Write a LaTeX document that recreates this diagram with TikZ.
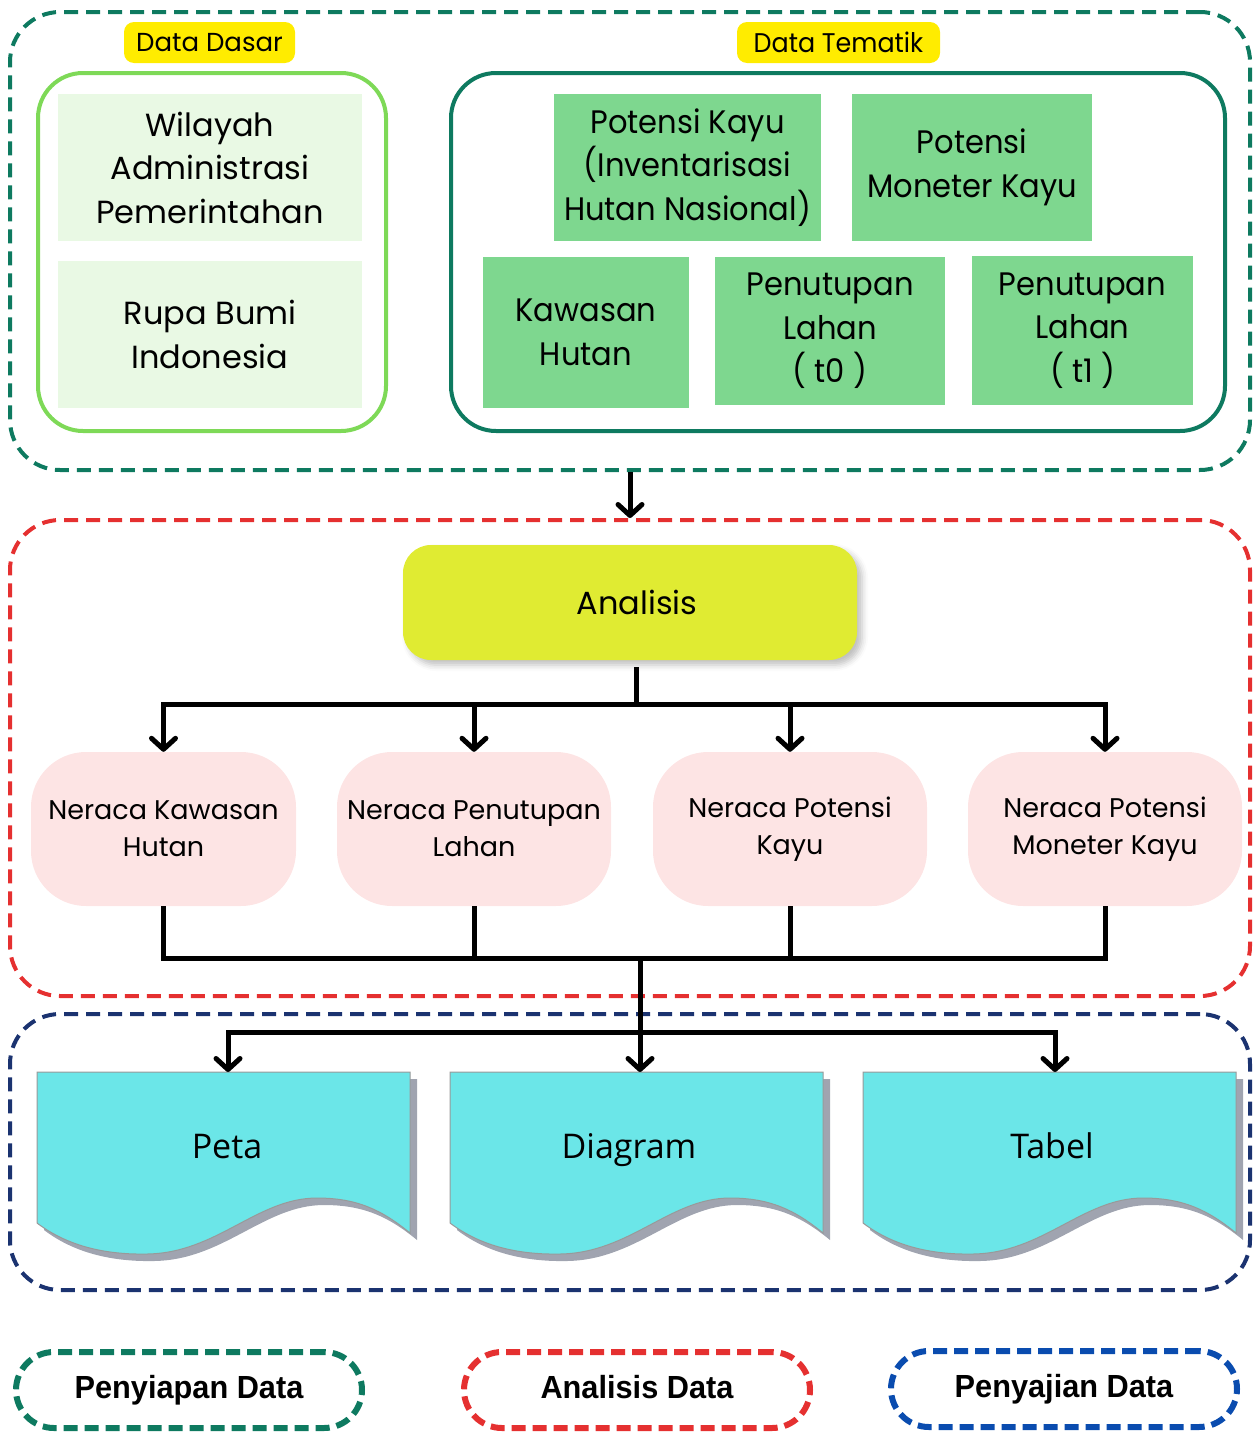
\documentclass[tikz,border=0pt]{standalone}
\usepackage{fontspec}
\setmainfont{Poppins}
\newfontfamily\condf[FakeStretch=0.94]{Poppins}
\newfontfamily\docf{Open Sans}
\newfontfamily\legf[FakeStretch=0.96]{Liberation Sans}
\usetikzlibrary{arrows.meta,shadows.blur}
\definecolor{dgreen}{HTML}{0E7A60}
\definecolor{lgreen}{HTML}{7ED957}
\definecolor{pgreen}{HTML}{E9F9E4}
\definecolor{mgreen}{HTML}{7ED78F}
\definecolor{fred}{HTML}{E53030}
\definecolor{navy}{HTML}{1B3370}
\definecolor{lblue}{HTML}{0A4CAF}
\definecolor{ylw}{HTML}{FFEC00}
\definecolor{lime}{HTML}{E0EB32}
\definecolor{pink}{HTML}{FDE4E4}
\definecolor{cyanf}{HTML}{6BE6E8}
\definecolor{shd}{HTML}{A0A4B0}
\tikzset{
  frame/.style={draw, line width=4pt, dash pattern=on 14pt off 8pt, rounded corners=50pt, minimum width=1240pt, inner sep=0pt},
  tag/.style={fill=ylw, rounded corners=10pt, minimum height=41pt, inner sep=0pt, font=\fontsize{26}{28}\selectfont},
  paleb/.style={fill=pgreen, minimum width=304pt, minimum height=147pt, inner sep=0pt, align=center, font=\fontsize{32}{43.5}\selectfont},
  greenb/.style={fill=mgreen, inner sep=0pt, align=center, font=\condf\fontsize{32.5}{43.5}\selectfont},
  ner/.style={fill=pink, rounded corners=55pt, minimum height=154pt, inner sep=0pt, align=center, font=\fontsize{27}{37}\selectfont},
  leg/.style={draw, line width=6pt, dash pattern=on 14pt off 7pt, rounded corners=38pt, minimum width=346pt, minimum height=76pt, inner sep=0pt, text height=23pt, text depth=7pt, font=\legf\bfseries\fontsize{32}{36}\selectfont},
  doclabel/.style={font=\docf\fontsize{34}{38}\selectfont, text height=25pt, text depth=8pt, inner sep=0pt},
  conn/.style={line width=5pt},
  arr/.style={line width=5pt, -{Straight Barb[length=11pt, width=24pt, line width=5pt, round]}},
  docshape/.pic={
    \fill[shd] (7,7) -- (380,7) -- (380,168) .. controls (352,145) and (327,133) .. (287,133) .. controls (227,133) and (187,188) .. (117,189) .. controls (67,190) and (32,177) .. (7,158) -- cycle;
    \draw[fill=cyanf, draw=gray!80, line width=1pt] (0,0) -- (373,0) -- (373,161) .. controls (345,138) and (320,126) .. (280,126) .. controls (220,126) and (180,181) .. (110,182) .. controls (60,183) and (25,170) .. (0,151) -- cycle;
  }
}
\begin{document}
\begin{tikzpicture}[x=1pt, y=-1pt]
\useasboundingbox (0,0) rectangle (1256,1432);
% frames
\node[frame, draw=dgreen, minimum height=458pt] (fg) at (630,241) {};
\node[frame, draw=fred, minimum height=476pt] (fr) at (630,758) {};
\node[frame, draw=navy, minimum height=276pt] (fb) at (630,1152) {};
% Data Dasar
\node[tag, minimum width=171pt] (dd) at (209.5,42.5) {Data Dasar};
\node[draw=lgreen, line width=4pt, rounded corners=45pt, minimum width=348pt, minimum height=358pt, inner sep=0pt] (ddbox) at (212,252) {};
\node[paleb] (wil) at (210,167.5) {Wilayah\\Administrasi\\Pemerintahan};
\node[paleb] (rupa) at (210,334.5) {Rupa Bumi\\Indonesia};
% Data Tematik
\node[tag, minimum width=203pt, font=\condf\fontsize{27}{28}\selectfont] (dt) at (838.5,42.5) {Data Tematik};
\node[draw=dgreen, line width=4pt, rounded corners=45pt, minimum width=774pt, minimum height=358pt, inner sep=0pt] (dtbox) at (838,252) {};
\node[greenb, minimum width=267pt, minimum height=147pt] (pk) at (687.5,167.5) {Potensi Kayu\\(Inventarisasi\\Hutan Nasional)};
\node[greenb, minimum width=240pt, minimum height=147pt] (pm) at (972,167.5) {Potensi\\Moneter Kayu};
\node[greenb, minimum width=206pt, minimum height=151pt] (kh) at (586,332.5) {Kawasan\\Hutan};
\node[greenb, minimum width=230pt, minimum height=148pt] (pl0) at (830,331) {Penutupan\\Lahan\\( t0 )};
\node[greenb, minimum width=221pt, minimum height=149pt] (pl1) at (1082.5,330.5) {Penutupan\\Lahan\\( t1 )};
\draw[arr] (fg.south) -- (fr.north);
% Analisis
\node[fill=lime, rounded corners=28pt, minimum width=454pt, minimum height=115pt, inner sep=0pt,
  blur shadow={shadow xshift=5pt, shadow yshift=-5pt, shadow blur radius=6pt, shadow opacity=25},
  font=\fontsize{32}{36}\selectfont] (ana) at (630,602.5) {\hspace{14pt}Analisis};
% Neraca
\node[ner, minimum width=265pt] (n1) at (163.5,829) {Neraca Kawasan\\Hutan};
\node[ner, minimum width=274pt] (n2) at (474,829) {Neraca Penutupan\\Lahan};
\node[ner, minimum width=274pt] (n3) at (790,829) {Neraca Potensi\\Kayu\vphantom{p}};
\node[ner, minimum width=274pt] (n4) at (1105,829) {Neraca Potensi\\Moneter Kayu};
\coordinate (j1) at (636,704);
\draw[conn] (j1 |- ana.south) ++(0,7) -- (j1);
\draw[arr] (j1) -| (n1.north);
\draw[arr] (j1) -| (n4.north);
\draw[arr] (n2.north |- j1) -- (n2.north);
\draw[arr] (n3.north |- j1) -- (n3.north);
% documents
\pic at (37,1072) {docshape};
\pic at (450,1072) {docshape};
\pic at (863,1072) {docshape};
\node[doclabel] (peta) at (227,1150) {Peta};
\node[doclabel] (diag) at (629,1150) {Diagram};
\node[doclabel] (tabel) at (1052,1150) {Tabel};
\coordinate (petatop) at (228,1072);
\coordinate (diagtop) at (640,1072);
\coordinate (tabeltop) at (1055,1072);
\coordinate (j2) at (640,958);
\coordinate (j3) at (640,1032);
\draw[conn] (n1.south) |- (j2 -| n4.south) -- (n4.south);
\draw[conn] (n2.south) -- (n2.south |- j2);
\draw[conn] (n3.south) -- (n3.south |- j2);
\draw[arr] (j2) -- (diagtop);
\draw[arr] (j3) -| (petatop);
\draw[arr] (j3) -| (tabeltop);
% legend
\node[leg, draw=dgreen] (l1) at (189,1390) {Penyiapan Data};
\node[leg, draw=fred] (l2) at (637,1390) {Analisis Data};
\node[leg, draw=lblue] (l3) at (1064,1389) {Penyajian Data};
\end{tikzpicture}
\end{document}
